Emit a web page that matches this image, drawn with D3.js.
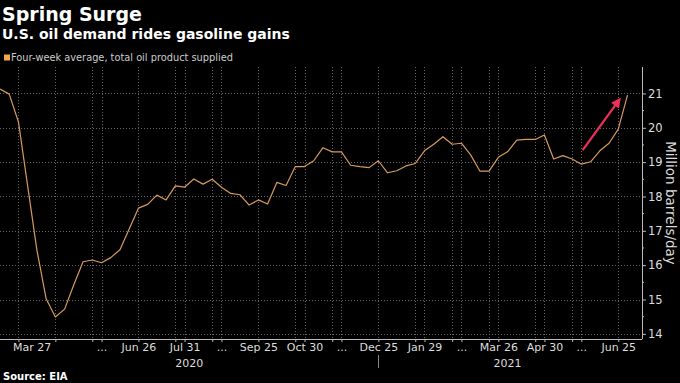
<!DOCTYPE html>
<html>
<head>
<meta charset="utf-8">
<script src="https://cdn.jsdelivr.net/npm/d3@7"></script>
<style>
  html, body { margin: 0; padding: 0; background: #000; }
  svg { display: block; }
  text { font-family: "DejaVu Sans", sans-serif; }
</style>
</head>
<body>
<svg id="chart" width="680" height="383"></svg>
<script>
// ---- data ----
const weeks = [
  "2020-03-13","2020-03-20","2020-03-27","2020-04-03","2020-04-10","2020-04-17","2020-04-24",
  "2020-05-01","2020-05-08","2020-05-15","2020-05-22","2020-05-29","2020-06-05","2020-06-12",
  "2020-06-19","2020-06-26","2020-07-03","2020-07-10","2020-07-17","2020-07-24","2020-07-31",
  "2020-08-07","2020-08-14","2020-08-21","2020-08-28","2020-09-04","2020-09-11","2020-09-18",
  "2020-09-25","2020-10-02","2020-10-09","2020-10-16","2020-10-23","2020-10-30","2020-11-06",
  "2020-11-13","2020-11-20","2020-11-27","2020-12-04","2020-12-11","2020-12-18","2020-12-25",
  "2021-01-01","2021-01-08","2021-01-15","2021-01-22","2021-01-29","2021-02-05","2021-02-12",
  "2021-02-19","2021-02-26","2021-03-05","2021-03-12","2021-03-19","2021-03-26","2021-04-02",
  "2021-04-09","2021-04-16","2021-04-23","2021-04-30","2021-05-07","2021-05-14","2021-05-21",
  "2021-05-28","2021-06-04","2021-06-11","2021-06-18","2021-06-25","2021-07-02"
];
const supplied = [
  21.13, 20.98, 20.17, 18.30, 16.44, 15.02, 14.49,
  14.72, 15.43, 16.10, 16.15, 16.07, 16.22, 16.45,
  17.05, 17.66, 17.77, 18.04, 17.90, 18.31, 18.27,
  18.51, 18.36, 18.50, 18.27, 18.09, 18.05, 17.75,
  17.90, 17.78, 18.41, 18.32, 18.87, 18.87, 19.04,
  19.42, 19.30, 19.30, 18.91, 18.87, 18.84, 19.04,
  18.69, 18.75, 18.89, 18.96, 19.33, 19.52, 19.74,
  19.52, 19.55, 19.21, 18.74, 18.74, 19.14, 19.30,
  19.64, 19.66, 19.66, 19.79, 19.09, 19.19, 19.09,
  18.94, 19.01, 19.33, 19.55, 19.96, 20.95
];
const tickDates = [
  "2020-03-27","2020-04-24","2020-05-22","2020-05-29","2020-06-26","2020-07-24","2020-07-31",
  "2020-08-21","2020-08-28","2020-09-25","2020-10-23","2020-10-30","2020-11-20","2020-11-27",
  "2020-12-25","2021-01-22","2021-01-29","2021-02-19","2021-02-26","2021-03-19","2021-03-26",
  "2021-04-23","2021-04-30","2021-05-21","2021-05-28","2021-06-25"
];
const tickLabels = [
  "Mar 27","","","...","Jun 26","","Jul 31",
  "","...","Sep 25","","Oct 30","","...",
  "Dec 25","","Jan 29","","...","","Mar 26",
  "","Apr 30","","...","Jun 25"
];
const yTicks = [14, 15, 16, 17, 18, 19, 20, 21];
const years = ["2020", "2021"];
const arrowFrom = {date: "2021-05-29", value: 19.35};
const arrowTo = {date: "2021-06-26", value: 20.83};

const title = "Spring Surge";
const subtitle = "U.S. oil demand rides gasoline gains";
const legendLabel = "Four-week average, total oil product supplied";
const yTitle = "Million barrels/day";
const source = "Source: EIA";

// ---- drawing ----
const parse = d3.utcParse("%Y-%m-%d");
const data = weeks.map((w, i) => ({date: parse(w), value: supplied[i]}));

const svg = d3.select("#chart");
const W = 680, H = 383;
svg.append("rect").attr("width", W).attr("height", H).attr("fill", "#000");

const plot = {left: 0, right: 642, top: 67, bottom: 339};

const x = d3.scaleUtc()
  .domain([parse("2020-03-13"), parse("2021-07-13")])
  .range([plot.left, plot.right]);
const y = d3.scaleLinear()
  .domain([13.85, 21.77])
  .range([plot.bottom, plot.top]);

// gridlines
const grid = svg.append("g");
grid.selectAll("line.h").data(yTicks).join("line")
  .attr("x1", plot.left).attr("x2", plot.right)
  .attr("y1", d => Math.round(y(d)) + 0.5).attr("y2", d => Math.round(y(d)) + 0.5)
  .attr("stroke", "#666").attr("stroke-width", 1).attr("stroke-dasharray", "1,2");
grid.selectAll("line.v").data(tickDates).join("line")
  .attr("x1", d => Math.round(x(parse(d))) + 0.5).attr("x2", d => Math.round(x(parse(d))) + 0.5)
  .attr("y1", plot.top).attr("y2", plot.bottom)
  .attr("stroke", "#666").attr("stroke-width", 1).attr("stroke-dasharray", "1,2");

// x axis
const xAxis = d3.axisBottom(x)
  .tickValues(tickDates.map(parse))
  .tickSize(3)
  .tickPadding(1)
  .tickFormat((d, i) => tickLabels[i]);
const gx = svg.append("g")
  .attr("transform", `translate(0,${plot.bottom})`)
  .call(xAxis);
gx.select(".domain").attr("stroke", "#bbb").attr("d", `M${plot.left},0.5H${plot.right}`);
gx.selectAll(".tick line").attr("stroke", "#bbb");
gx.selectAll(".tick text")
  .attr("fill", "#ddd")
  .attr("font-size", 11)
  .attr("font-family", "DejaVu Sans, sans-serif")
  .each(function() {
    const t = d3.select(this);
    const w = this.getComputedTextLength();
    const tr = d3.select(this.parentNode).attr("transform");
    const tx = +tr.match(/translate\(([-\d.]+)/)[1];
    if (tx - w / 2 < 13) t.attr("x", 13 + w / 2 - tx);
  });

// year labels
years.forEach(yr => {
  const ds = data.filter(d => d.date.getUTCFullYear() === +yr);
  const mid = (x(ds[0].date) + x(ds[ds.length - 1].date)) / 2;
  svg.append("text")
    .attr("x", mid).attr("y", 367)
    .attr("text-anchor", "middle")
    .attr("fill", "#ddd").attr("font-size", 11)
    .text(yr);
});
// year separator
const lastOf2020 = data.filter(d => d.date.getUTCFullYear() === 2020).slice(-1)[0];
svg.append("line")
  .attr("x1", Math.round(x(lastOf2020.date)) + 0.5).attr("x2", Math.round(x(lastOf2020.date)) + 0.5)
  .attr("y1", 355).attr("y2", 368)
  .attr("stroke", "#888");

// y axis
const yAxis = d3.axisRight(y).tickValues(yTicks).tickSize(4).tickPadding(2).tickFormat(d3.format("d"));
const gy = svg.append("g").attr("transform", `translate(${plot.right},0)`).call(yAxis);
gy.select(".domain").attr("stroke", "#bbb").attr("d", `M0.5,${plot.top}V${plot.bottom}`);
gy.selectAll(".tick line").attr("stroke", "#bbb");
gy.selectAll(".tick text").attr("fill", "#ddd").attr("font-size", 11.5)
  .attr("font-family", "DejaVu Sans, sans-serif");
// minor ticks
gy.selectAll("line.minor").data(yTicks.slice(0, -1).map(d => d + 0.5)).join("line")
  .attr("class", "minor")
  .attr("x1", 0).attr("x2", 2)
  .attr("y1", d => y(d)).attr("y2", d => y(d))
  .attr("stroke", "#bbb");

svg.append("text")
  .attr("transform", `translate(666,${(plot.top + plot.bottom) / 2}) rotate(90)`)
  .attr("text-anchor", "middle")
  .attr("fill", "#ddd").attr("font-size", 13.5)
  .text(yTitle);

// line
const line = d3.line().x(d => x(d.date)).y(d => y(d.value));
svg.append("path").datum(data)
  .attr("d", line)
  .attr("fill", "none")
  .attr("stroke", "#d69a5e")
  .attr("stroke-width", 1.2)
  .attr("stroke-linejoin", "round");

// arrow annotation
const defs = svg.append("defs");
defs.append("marker").attr("id", "arrowhead")
  .attr("viewBox", "0 0 10 10").attr("refX", 8).attr("refY", 5)
  .attr("markerWidth", 4.5).attr("markerHeight", 4.5)
  .attr("orient", "auto")
  .append("path").attr("d", "M0,0 L10,5 L0,10 z").attr("fill", "#f0305a");
svg.append("line")
  .attr("x1", x(parse(arrowFrom.date))).attr("y1", y(arrowFrom.value))
  .attr("x2", x(parse(arrowTo.date))).attr("y2", y(arrowTo.value))
  .attr("stroke", "#f0305a").attr("stroke-width", 2.2)
  .attr("marker-end", "url(#arrowhead)");

// titles
svg.append("text").attr("x", 2).attr("y", 20.5)
  .attr("fill", "#fff").attr("font-weight", "bold").attr("font-size", 19)
  .text(title);
svg.append("text").attr("x", 2).attr("y", 38.5)
  .attr("fill", "#fff").attr("font-weight", "bold").attr("font-size", 14)
  .text(subtitle);
svg.append("rect").attr("x", 4).attr("y", 54.5).attr("width", 6).attr("height", 6)
  .attr("fill", "#f5a64a");
svg.append("text").attr("x", 11).attr("y", 61)
  .attr("fill", "#ccc").attr("font-size", 9.8)
  .text(legendLabel);
svg.append("text").attr("x", 3).attr("y", 380)
  .attr("fill", "#fff").attr("font-weight", "bold").attr("font-size", 10)
  .text(source);
</script>
</body>
</html>
